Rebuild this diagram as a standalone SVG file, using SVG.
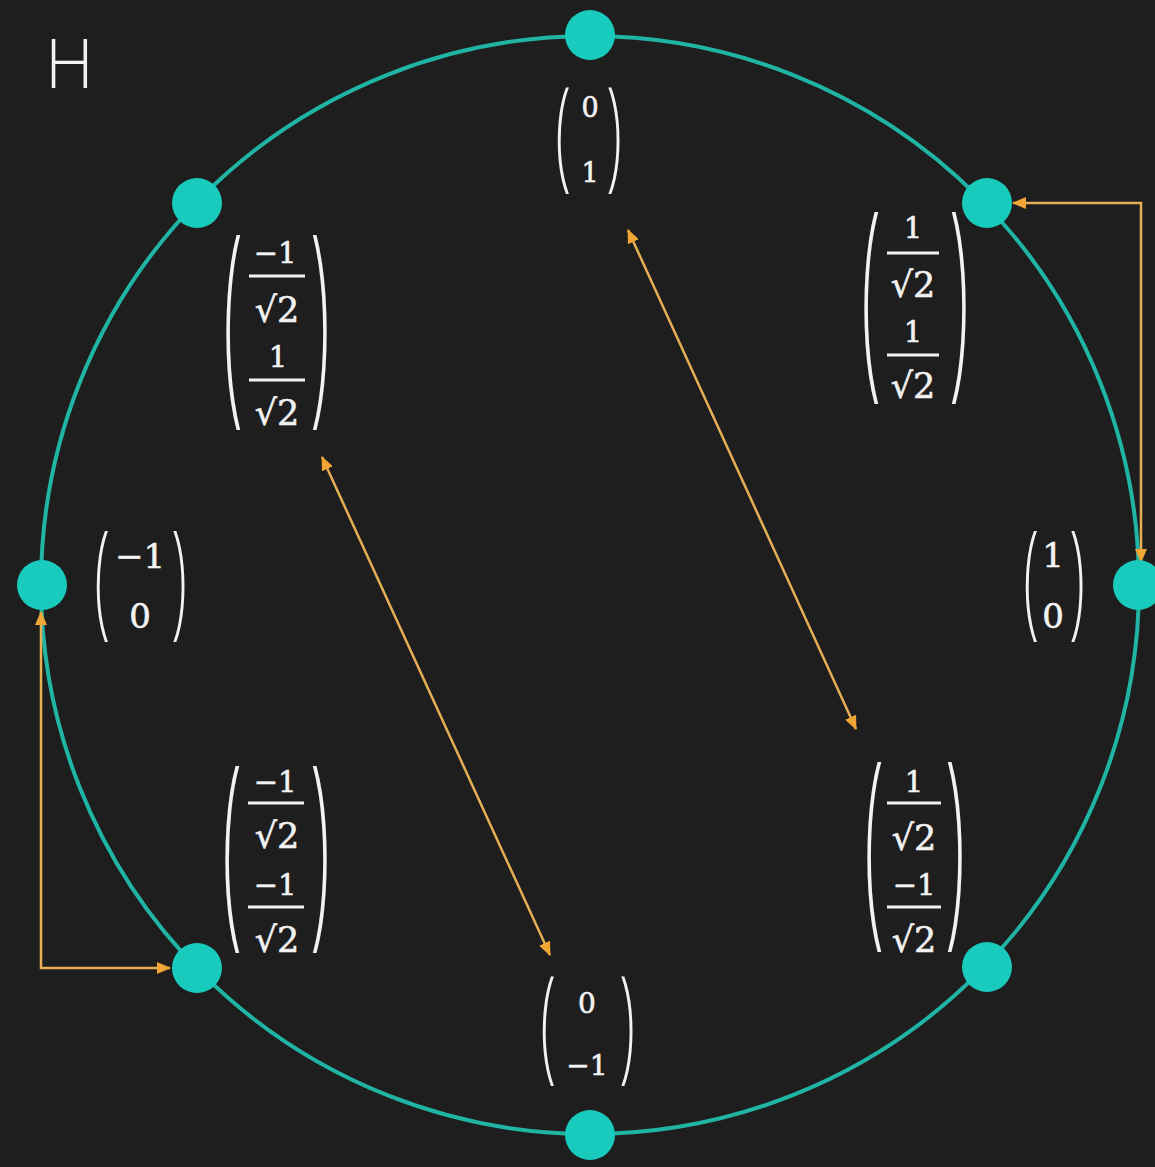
<svg xmlns="http://www.w3.org/2000/svg" width="1155" height="1167" viewBox="0 0 1155 1167">
<defs>
<style>
.bg{fill:#1e1e1e}
.ring{fill:none;stroke:#20b4a4;stroke-width:4}
.node{fill:#19cbbd}
.arr{fill:none;stroke:#e6ae55;stroke-width:2.5}
.t{font-family:"DejaVu Serif","Liberation Serif",serif;fill:#f2f2f2;stroke:#f2f2f2;stroke-width:0.6;text-anchor:middle}
.f{font-size:29px}
.d{font-size:35px}
.p{font-family:"Open Sans","Liberation Sans",sans-serif;font-weight:300;fill:#f2f2f2;text-anchor:middle}
.bar{stroke:#f2f2f2;stroke-width:3}
.lbl{font-family:"Open Sans","Liberation Sans",sans-serif;font-weight:300;font-size:68px;fill:#f2f2f2}
</style>
<marker id="ah" viewBox="0 0 14 12" refX="13" refY="6" markerWidth="14" markerHeight="12" markerUnits="userSpaceOnUse" orient="auto-start-reverse">
<path d="M0,0 L14,6 L0,12 z" fill="#f0a535"/>
</marker>
</defs>
<rect class="bg" x="0" y="0" width="1155" height="1167"/>
<text class="lbl" x="45" y="88">H</text>
<g id="circle"><circle class="ring" cx="590" cy="585" r="549"/></g>
<g id="connectors">
<path class="arr" d="M1013,203 L1141,203 L1141,562" marker-start="url(#ah)" marker-end="url(#ah)"/>
<path class="arr" d="M41,612 L41,968 L170,968" marker-start="url(#ah)" marker-end="url(#ah)"/>
<line class="arr" x1="628" y1="230" x2="856" y2="729" marker-start="url(#ah)" marker-end="url(#ah)"/>
<line class="arr" x1="322" y1="457" x2="550" y2="955" marker-start="url(#ah)" marker-end="url(#ah)"/>
</g>
<g id="node-top"><circle class="node" cx="590" cy="35" r="25"/>
<text class="p" transform="translate(563,142) scale(1,2.17)" y="15" font-size="56">(</text>
<text class="p" transform="translate(614,142) scale(1,2.17)" y="15" font-size="56">)</text>
<text class="t" x="590" y="117" font-size="27">0</text>
<text class="t" x="590" y="182" font-size="27">1</text>
</g>
<g id="node-top-right"><circle class="node" cx="987" cy="203" r="25"/>
<text class="p" transform="translate(871,306) scale(1,3.15)" y="20" font-size="70">(</text>
<text class="p" transform="translate(959,306) scale(1,3.15)" y="20" font-size="70">)</text>
<text class="t f" x="913" y="238">1</text>
<line class="bar" x1="887" y1="253" x2="939" y2="253"/>
<text class="t d" x="913" y="297">√2</text>
<text class="t f" x="913" y="342">1</text>
<line class="bar" x1="887" y1="355" x2="939" y2="355"/>
<text class="t d" x="913" y="398">√2</text>
</g>
<g id="node-right"><circle class="node" cx="1138" cy="585" r="25"/>
<text class="p" transform="translate(1031,588) scale(1,2.26)" y="15" font-size="56">(</text>
<text class="p" transform="translate(1077,588) scale(1,2.26)" y="15" font-size="56">)</text>
<text class="t" x="1053" y="567" font-size="34">1</text>
<text class="t" x="1053" y="628" font-size="34">0</text>
</g>
<g id="node-bottom-right"><circle class="node" cx="987" cy="967" r="25"/>
<text class="p" transform="translate(874,856) scale(1,3.1)" y="20" font-size="70">(</text>
<text class="p" transform="translate(955,856) scale(1,3.1)" y="20" font-size="70">)</text>
<text class="t f" x="914" y="792">1</text>
<line class="bar" x1="887" y1="803" x2="941" y2="803"/>
<text class="t d" x="914" y="850">√2</text>
<text class="t f" x="914" y="895">−1</text>
<line class="bar" x1="887" y1="907" x2="941" y2="907"/>
<text class="t d" x="914" y="952">√2</text>
</g>
<g id="node-bottom"><circle class="node" cx="590" cy="1135" r="25"/>
<text class="p" transform="translate(548,1033) scale(1,2.23)" y="15" font-size="56">(</text>
<text class="p" transform="translate(627,1033) scale(1,2.23)" y="15" font-size="56">)</text>
<text class="t" x="587" y="1013" font-size="28">0</text>
<text class="t" x="587" y="1075" font-size="28">−1</text>
</g>
<g id="node-bottom-left"><circle class="node" cx="197" cy="968" r="25"/>
<text class="p" transform="translate(232,858) scale(1,3.07)" y="20" font-size="70">(</text>
<text class="p" transform="translate(320,858) scale(1,3.07)" y="20" font-size="70">)</text>
<text class="t f" x="275" y="792">−1</text>
<line class="bar" x1="248" y1="803" x2="304" y2="803"/>
<text class="t d" x="277" y="848">√2</text>
<text class="t f" x="275" y="895">−1</text>
<line class="bar" x1="248" y1="907" x2="304" y2="907"/>
<text class="t d" x="277" y="952">√2</text>
</g>
<g id="node-left"><circle class="node" cx="42" cy="585" r="25"/>
<text class="p" transform="translate(102,588) scale(1,2.26)" y="15" font-size="56">(</text>
<text class="p" transform="translate(179,588) scale(1,2.26)" y="15" font-size="56">)</text>
<text class="t" x="140" y="568" font-size="34">−1</text>
<text class="t" x="140" y="628" font-size="34">0</text>
</g>
<g id="node-top-left"><circle class="node" cx="197" cy="203" r="25"/>
<text class="p" transform="translate(233,331) scale(1,3.18)" y="20" font-size="70">(</text>
<text class="p" transform="translate(320,331) scale(1,3.18)" y="20" font-size="70">)</text>
<text class="t f" x="275" y="263">−1</text>
<line class="bar" x1="249" y1="276" x2="305" y2="276"/>
<text class="t d" x="277" y="322">√2</text>
<text class="t f" x="278" y="367">1</text>
<line class="bar" x1="249" y1="380" x2="305" y2="380"/>
<text class="t d" x="277" y="425">√2</text>
</g>
</svg>
